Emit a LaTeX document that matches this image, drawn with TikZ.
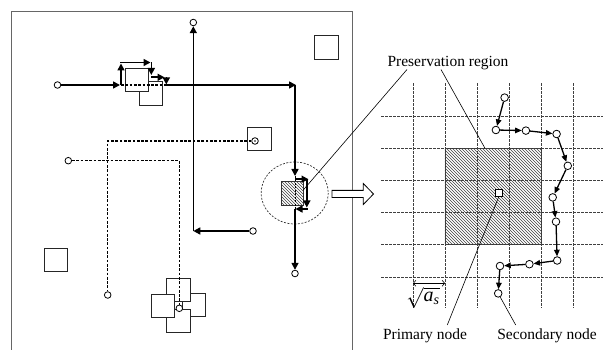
\documentclass[tikz,border=0pt]{standalone}
\usepackage{fontspec}
\setmainfont{Liberation Serif}
\usetikzlibrary{arrows.meta,patterns}
\begin{document}
\begin{tikzpicture}[x=1pt,y=-1pt,
  lbl/.style={font=\fontsize{15.5}{18}\selectfont, inner sep=0pt},
  frame/.style={draw=black!60, line width=0.9pt},
  box/.style={rectangle, draw=black!85, line width=0.9pt, fill=white, minimum size=23.3pt, inner sep=0pt},
  dot/.style={circle, draw=black, fill=white, line width=0.8pt, minimum size=6.6pt, inner sep=0pt},
  route/.style={line width=1.6pt, -{Triangle[length=7pt,width=7pt]}},
  routeline/.style={line width=1.6pt},
  oldpath/.style={line width=1.4pt, dash pattern=on 2.7pt off 1.6pt},
  hatchbox/.style={rectangle, draw=black!80, line width=0.9pt, pattern=north west lines, pattern color=black!75, inner sep=0pt},
  gridline/.style={black!75, line width=0.7pt, dash pattern=on 2.5pt off 1.5pt},
  snode/.style={circle, draw, fill=white, line width=0.8pt, minimum size=7.6pt, inner sep=0pt},
  hop/.style={line width=1.3pt, -{Triangle[length=6.5pt,width=5.5pt]}},
  leader/.style={line width=0.6pt}]
\useasboundingbox (0,0) rectangle (603,350);

% ---------------- left panel ----------------
\draw[frame] (11,352) -- (11,11.7) -- (352,11.7) -- (352,352);

% isolated squares
\node[box] (sqTR) at (326.5,47.5) {};
\node[box] (sqBL) at (55.8,260) {};
\node[box] (sqMid) at (259.3,139.3) {};

% top cluster squares
\node[box] (sqA2) at (151,93.5) {};
\node[box] (sqA1) at (136.6,80) {};

% bottom pinwheel cluster
\node[box] (sqR) at (194,305) {};
\node[box] (sqB) at (178.3,321) {};
\node[box] (sqT) at (178.3,290) {};
\node[box] (sqL) at (162.7,305.6) {};

% small hatched square (preservation region)
\node[hatchbox, minimum width=22.3pt, minimum height=23.3pt] (hsq) at (292.2,193.4) {};

% dashed ellipse
\draw[black!80, line width=0.7pt, dash pattern=on 2pt off 1.5pt] (294.7,193) ellipse [x radius=33.5, y radius=31];

% dashed (old) paths
\node[dot] (d1) at (255,141) {};
\fill (d1) circle (0.9);
\node[dot] (d1e) at (107.7,295) {};
\coordinate (d1k) at (107.7,141);
\draw[oldpath] (d1) -- (d1k) -- (d1e);
\node[dot] (d2) at (68.3,160.7) {};
\node[dot] (d2e) at (179.3,308.3) {};
\coordinate (d2k) at (179.3,160.7);
\draw[oldpath] (d2) -- (d2k) -- (d2e);
\coordinate (o1) at (121,85);
\coordinate (o2) at (166,85);
\draw[oldpath] (o1) -- (o2);
\coordinate (o3) at (295,176);
\coordinate (o4) at (295,209);
\draw[black, line width=0.8pt, dash pattern=on 2pt off 1.5pt] (o3) -- (o4);

% route 1: vertical path with left-going start
\node[dot] (r1s) at (253,231) {};
\node[dot] (r1e) at (193.3,22.5) {};
\coordinate (r1k) at (193.3,231);
\draw[route] (r1s) -- (r1k);
\draw[routeline] (r1k) -- (193.3,226);
\draw[route] (r1k) -- (r1e);

% route 2: horizontal path with detour
\node[dot] (r2s) at (57.5,85) {};
\coordinate (a1) at (120,85);
\coordinate (a2) at (121,85);
\coordinate (a3) at (121,63.5);
\coordinate (a4) at (120.2,62.5);
\coordinate (a5) at (150.5,62.5);
\coordinate (a6) at (151.3,62.5);
\coordinate (a7) at (151.3,75);
\coordinate (a8) at (151.3,77.3);
\coordinate (a9) at (164.5,77.3);
\coordinate (a10) at (166.3,77.3);
\coordinate (a11) at (166.3,84.5);
\coordinate (a12) at (165.5,85);
\coordinate (a13) at (296,85);
\coordinate (a14) at (295,85);
\coordinate (a15) at (295,176);
\draw[route] (r2s) -- (a1);
\draw[route] (a2) -- (a3);
\draw[route] (a4) -- (a5);
\draw[route] (a6) -- (a7);
\draw[route] (a8) -- (a9);
\draw[route] (a10) -- (a11);
\draw[route] (a12) -- (a13);
\draw[route] (a14) -- (a15);
\coordinate (b1) at (295,179.2);
\coordinate (b2) at (308.5,179.2);
\coordinate (b3) at (306.8,179.2);
\coordinate (b4) at (306.8,207.5);
\coordinate (b5) at (307.5,209);
\coordinate (b6) at (295.5,209);
\coordinate (b7) at (295,209);
\node[dot] (r2e) at (295,273.5) {};
\draw[route] (b1) -- (b2);
\draw[route] (b3) -- (b4);
\draw[route] (b5) -- (b6);
\draw[route] (b7) -- (r2e);

% hollow zoom arrow
\draw[line width=0.8pt, fill=white] (332,190.4) -- (363.3,190.4) -- (363.3,183.5) -- (373.5,194) -- (363.3,204.5) -- (363.3,197.6) -- (332,197.6) -- cycle;

% ---------------- right panel ----------------
\node[hatchbox, minimum width=96.5pt, minimum height=96.5pt] (bigsq) at (493.2,196.5) {};
\foreach \gx in {413,445,477.2,509.4,541.5,573.5}
  \draw[gridline] (\gx,83.3) -- (\gx,308.3);
\foreach \gy in {116,148.3,180.5,212.7,244.8,277}
  \draw[gridline] (381,\gy) -- (603,\gy);

\node[rectangle, draw, fill=white, line width=0.7pt, minimum size=7.4pt, inner sep=0pt] (prim) at (498.7,192.8) {};

% secondary node chain
\node[snode] (c1) at (504.6,97.6) {};
\node[snode] (c2) at (495.9,130) {};
\node[snode] (c3) at (525.9,130.6) {};
\node[snode] (c4) at (556.6,134) {};
\node[snode] (c5) at (567.8,165.8) {};
\node[snode] (c6) at (552.7,197.4) {};
\node[snode] (c7) at (556,221.7) {};
\node[snode] (c8) at (557.2,260.5) {};
\node[snode] (c9) at (529.4,264.2) {};
\node[snode] (c10) at (500,266) {};
\node[snode] (c11) at (498.2,293.4) {};
\draw[hop] (c1) -- (c2);
\draw[hop] (c2) -- (c3);
\draw[hop] (c3) -- (c4);
\draw[hop] (c4) -- (c5);
\draw[hop] (c5) -- (c6);
\draw[hop] (c6) -- (c7);
\draw[hop] (c7) -- (c8);
\draw[hop] (c8) -- (c9);
\draw[hop] (c9) -- (c10);
\draw[hop] (c10) -- (c11);

% labels
\node[lbl] (preslab) at (448,62.7) {Preservation region};
\node[lbl] (primlab) at (425,335.7) {Primary node};
\node[lbl] (seclab) at (547,335.7) {Secondary node};
\coordinate (p1) at (407,69.5);
\coordinate (p2) at (441,69.5);
\coordinate (hq) at (303.3,190);
\coordinate (bq) at (485,148.3);
\coordinate (pe) at (447.3,325);
\coordinate (se) at (515.7,325);
\draw[leader] (p1) -- (hq);
\draw[leader] (p2) -- (bq);
\draw[leader] (prim.south) -- (pe);
\draw[leader] (c11) -- (se);

% spacing dimension
\coordinate (s1) at (413,283.3);
\coordinate (s2) at (445,283.3);
\draw[line width=0.6pt, {Straight Barb[length=2.5pt,width=6pt]}-{Straight Barb[length=2.5pt,width=6pt]}] (s1) -- (s2);
\node[inner sep=0pt, font=\fontsize{20}{22}\selectfont] (aslab) at (423,297.5) {$\sqrt{\mbox{\itshape a}_{\mbox{\fontsize{14}{15}\selectfont\itshape s}}}$};
\end{tikzpicture}
\end{document}
